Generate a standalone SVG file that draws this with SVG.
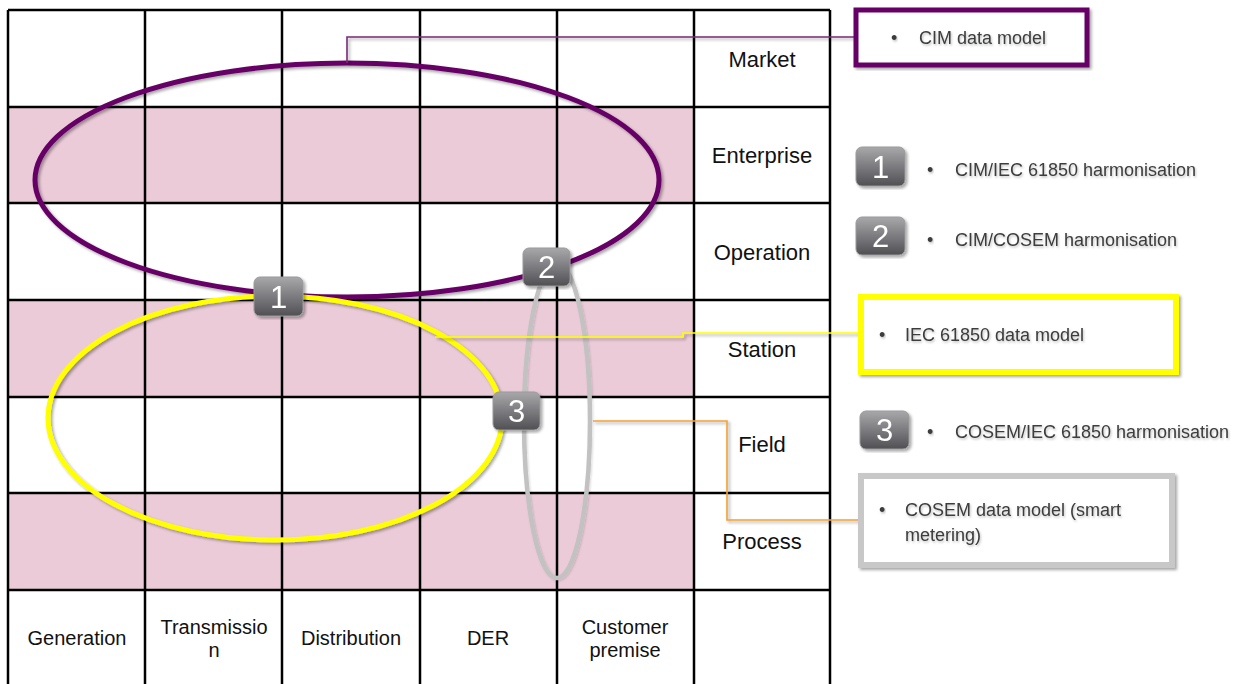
<svg xmlns="http://www.w3.org/2000/svg" width="1240" height="684" viewBox="0 0 1240 684">
<defs>
<linearGradient id="badgeGrad" x1="0" y1="0" x2="0" y2="1">
<stop offset="0" stop-color="#a8a8aa"/>
<stop offset="0.5" stop-color="#7c7c80"/>
<stop offset="1" stop-color="#505054"/>
</linearGradient>
<filter id="shadow" x="-10%" y="-10%" width="120%" height="120%">
<feDropShadow dx="2" dy="2" stdDeviation="1.5" flood-color="#000" flood-opacity="0.35"/>
</filter>
<filter id="lshadow" x="-10%" y="-10%" width="120%" height="120%">
<feDropShadow dx="1" dy="1" stdDeviation="1" flood-color="#000" flood-opacity="0.15"/>
</filter>
<filter id="tshadow" x="-5%" y="-20%" width="110%" height="140%">
<feDropShadow dx="1" dy="1.5" stdDeviation="1" flood-color="#000" flood-opacity="0.25"/>
</filter>
</defs>
<style>
.grid{stroke:#000;stroke-width:2.5;fill:none}
.pink{fill:#ebcbd8}
.row{font-family:"Liberation Sans",Arial,sans-serif;font-size:22px;fill:#111;text-anchor:middle}
.col{font-family:"Liberation Sans",Arial,sans-serif;font-size:20px;fill:#111;text-anchor:middle}
.leg{font-family:"Liberation Sans",Arial,sans-serif;font-size:18px;fill:#3c3c3c}
.badge rect{fill:url(#badgeGrad);stroke:#9a9a9c;stroke-width:1}
.badge text{font-family:"Liberation Sans",Arial,sans-serif;font-size:31px;fill:#fff;text-anchor:middle}
.conn{fill:none;stroke-width:1.6}
</style>
<rect width="1240" height="684" fill="#fff"/>
<g id="grid">
<rect class="pink" x="8" y="107" width="686" height="96"/>
<rect class="pink" x="8" y="300" width="686" height="97"/>
<rect class="pink" x="8" y="493" width="686" height="97"/>
<path class="grid" d="M8 10H830M8 107H830M8 203H830M8 300H830M8 397H830M8 493H830M8 590H830M8 10V684M145 10V684M282 10V684M420 10V684M557 10V684M694 10V684M830 10V684"/>
</g>
<g id="row-labels">
<text class="row" x="762" y="67">Market</text>
<text class="row" x="762" y="163">Enterprise</text>
<text class="row" x="762" y="260">Operation</text>
<text class="row" x="762" y="357">Station</text>
<text class="row" x="762" y="452">Field</text>
<text class="row" x="762" y="549">Process</text>
</g>
<g id="col-labels">
<text class="col" x="77" y="645">Generation</text>
<text class="col" x="214" y="634">Transmissio</text>
<text class="col" x="214" y="657">n</text>
<text class="col" x="351" y="645">Distribution</text>
<text class="col" x="488" y="645">DER</text>
<text class="col" x="625" y="634">Customer</text>
<text class="col" x="625" y="657">premise</text>
</g>
<g id="ellipses">
<ellipse id="cim-ellipse" cx="347" cy="180" rx="312" ry="117" fill="none" stroke="#660066" stroke-width="5" filter="url(#shadow)"/>
<ellipse id="iec-ellipse" cx="275" cy="418" rx="227" ry="122" fill="none" stroke="#ffff00" stroke-width="5" filter="url(#shadow)"/>
<ellipse id="cosem-ellipse" cx="557" cy="421" rx="33" ry="157" fill="none" stroke="#c2c2c2" stroke-width="4.5" filter="url(#lshadow)"/>
</g>
<g id="connectors" filter="url(#shadow)">
<polyline class="conn" stroke="#7a2a7a" points="347,63 347,37 856,37"/>
<polyline class="conn" stroke="#ffff00" points="435,337 683,337 683,333 859,333"/>
<polyline class="conn" stroke="#f5a030" points="593,421 727,421 727,520 859,520"/>
</g>
<g id="badge-1" class="badge" filter="url(#shadow)"><rect x="254" y="277" width="49" height="39" rx="6"/><text x="278.5" y="308">1</text></g>
<g id="badge-2" class="badge" filter="url(#shadow)"><rect x="523" y="248" width="47" height="38" rx="6"/><text x="546.5" y="278">2</text></g>
<g id="badge-3" class="badge" filter="url(#shadow)"><rect x="493" y="392" width="47" height="38" rx="6"/><text x="516.5" y="422">3</text></g>
<g id="legend-cim">
<rect x="856" y="10" width="231" height="55" fill="#fff" stroke="#660066" stroke-width="5" filter="url(#shadow)"/>
<text class="leg" x="891" y="44" filter="url(#tshadow)">•</text>
<text class="leg" x="919" y="44" filter="url(#tshadow)">CIM data model</text>
</g>
<g id="legend-1">
<g class="badge" filter="url(#shadow)"><rect x="856" y="147" width="49" height="39" rx="6"/><text x="880.5" y="178">1</text></g>
<text class="leg" x="927" y="176" filter="url(#tshadow)">•</text>
<text class="leg" x="955" y="176" filter="url(#tshadow)">CIM/IEC 61850 harmonisation</text>
</g>
<g id="legend-2">
<g class="badge" filter="url(#shadow)"><rect x="856" y="217" width="49" height="38" rx="6"/><text x="880.5" y="247">2</text></g>
<text class="leg" x="927" y="246" filter="url(#tshadow)">•</text>
<text class="leg" x="955" y="246" filter="url(#tshadow)">CIM/COSEM harmonisation</text>
</g>
<g id="legend-iec">
<rect x="861" y="297" width="315" height="75" fill="#fff" stroke="#ffff00" stroke-width="6" filter="url(#shadow)"/>
<text class="leg" x="879" y="341" filter="url(#tshadow)">•</text>
<text class="leg" x="905" y="341" filter="url(#tshadow)">IEC 61850 data model</text>
</g>
<g id="legend-3">
<g class="badge" filter="url(#shadow)"><rect x="860" y="411" width="49" height="38" rx="6"/><text x="884.5" y="441">3</text></g>
<text class="leg" x="927" y="438" filter="url(#tshadow)">•</text>
<text class="leg" x="955" y="438" filter="url(#tshadow)">COSEM/IEC 61850 harmonisation</text>
</g>
<g id="legend-cosem">
<rect x="861" y="476" width="311" height="89" fill="#fff" stroke="#c8c8c8" stroke-width="6" filter="url(#shadow)"/>
<text class="leg" x="879" y="516" filter="url(#tshadow)">•</text>
<text class="leg" x="905" y="516" filter="url(#tshadow)">COSEM data model (smart</text>
<text class="leg" x="905" y="541" filter="url(#tshadow)">metering)</text>
</g>
</svg>
